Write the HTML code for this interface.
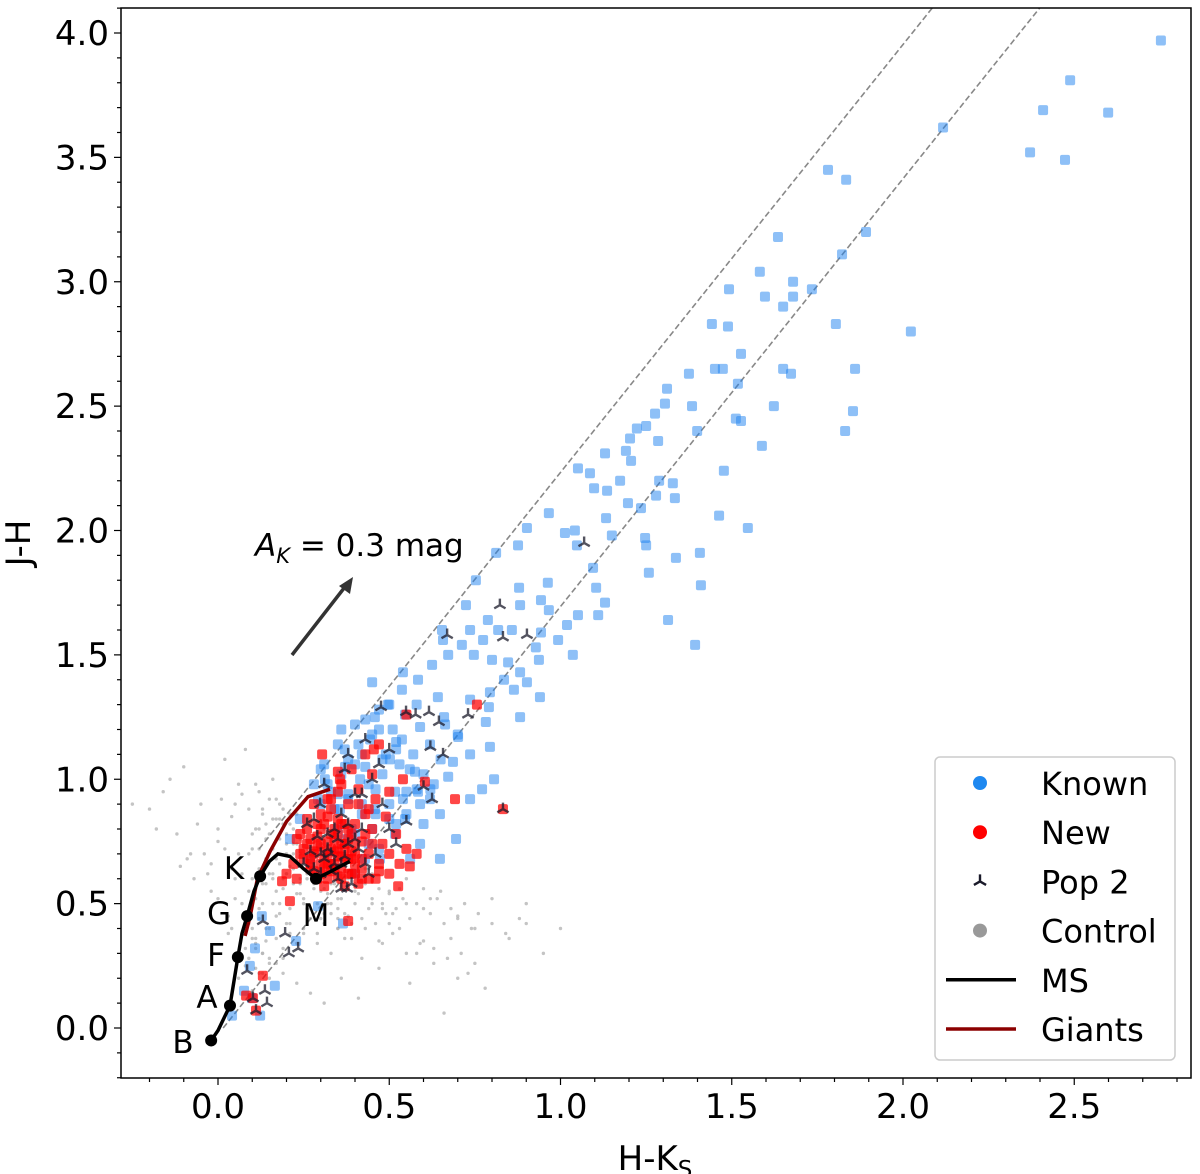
<!DOCTYPE html>
<html><head><meta charset="utf-8"><style>
html,body{margin:0;padding:0;background:#fff;}
svg{display:block;font-family:"DejaVu Sans","Liberation Sans",sans-serif;}
</style></head><body>
<svg id="chart" width="1200" height="1174" viewBox="0 0 1200 1174" xmlns="http://www.w3.org/2000/svg"></svg>
<script>
const knownX=[2.753,2.488,2.409,2.599,2.371,2.473,2.117,1.781,1.834,1.892,1.635,1.822,1.582,1.734,1.679,1.597,1.679,1.492,1.650,2.023,1.804,1.442,1.489,1.527,1.650,1.673,1.860,1.451,1.375,1.474,1.518,1.311,1.305,1.384,1.623,1.854,1.512,1.527,1.276,1.250,1.223,1.285,1.203,1.831,1.588,1.191,1.130,1.206,1.399,1.051,1.477,1.086,1.098,1.288,1.136,1.197,1.279,1.328,1.174,1.334,1.463,1.547,1.235,1.133,0.966,1.042,1.013,1.048,1.150,1.247,1.250,0.902,0.876,0.812,1.095,1.337,1.407,1.258,1.104,1.410,0.753,0.963,0.879,1.130,0.943,1.051,1.110,1.314,0.966,0.882,0.724,0.943,1.019,0.993,1.393,1.036,0.928,0.937,0.858,0.654,0.736,0.788,0.818,0.774,0.712,0.657,0.672,0.747,0.800,0.847,0.882,0.902,0.940,0.835,0.794,0.864,0.791,0.882,0.625,0.584,0.540,0.642,0.736,0.782,0.701,0.736,0.806,0.794,0.450,0.537,0.496,0.458,0.546,0.590,0.663,0.619,0.686,0.537,0.444,0.420,0.350,0.502,0.575,0.672,0.771,0.736,0.619,0.584,0.517,0.415,0.371,0.312,0.292,0.356,0.458,0.546,0.648,0.695,0.590,0.517,0.473,0.561,0.371,0.239,0.210,0.269,0.128,0.152,0.108,0.292,0.228,0.365,0.093,0.076,0.099,0.123,0.041,0.166,0.429,0.400,0.648,0.30,0.33,0.38,0.42,0.46,0.50,0.52,0.35,0.40,0.45,0.48,0.43,0.38,0.30,0.55,0.60,0.62,0.57,0.52,0.47,0.40,0.36,0.65,0.70,0.66,0.58,0.50,0.32,0.36,0.40,0.44,0.48,0.52,0.56,0.34,0.38,0.42,0.46,0.50,0.54,0.58,0.41,0.45,0.49,0.53,0.37,0.43,0.47,0.51,0.55,0.59,0.63,0.39,0.44,0.28,0.31,0.35,0.47,0.60];
const knownY=[3.97,3.81,3.69,3.68,3.52,3.49,3.62,3.45,3.41,3.20,3.18,3.11,3.04,2.97,3.00,2.94,2.94,2.97,2.90,2.80,2.83,2.83,2.82,2.71,2.65,2.63,2.65,2.65,2.63,2.65,2.59,2.57,2.51,2.50,2.50,2.48,2.45,2.44,2.47,2.42,2.41,2.36,2.37,2.40,2.34,2.32,2.31,2.28,2.40,2.25,2.24,2.23,2.17,2.20,2.16,2.11,2.14,2.19,2.20,2.13,2.06,2.01,2.09,2.05,2.07,2.00,1.99,1.94,1.98,1.97,1.94,2.01,1.94,1.91,1.85,1.89,1.91,1.83,1.77,1.78,1.80,1.79,1.77,1.71,1.72,1.66,1.66,1.64,1.68,1.70,1.70,1.59,1.62,1.56,1.54,1.50,1.53,1.48,1.60,1.60,1.60,1.64,1.60,1.56,1.54,1.56,1.50,1.50,1.48,1.47,1.43,1.39,1.33,1.40,1.35,1.36,1.29,1.25,1.46,1.40,1.43,1.33,1.32,1.23,1.17,1.10,1.00,1.13,1.39,1.36,1.30,1.25,1.26,1.21,1.22,1.14,1.07,1.16,1.16,1.10,1.14,1.08,1.03,1.01,0.96,0.92,0.92,0.95,0.95,1.00,1.05,1.00,0.92,0.88,0.88,0.84,0.86,0.76,0.74,0.78,0.68,0.68,0.76,0.84,0.76,0.68,0.45,0.39,0.32,0.49,0.35,0.42,0.25,0.15,0.12,0.05,0.05,0.17,0.68,0.62,0.68,0.90,0.95,0.92,0.86,0.96,0.90,0.82,0.80,0.78,0.80,1.02,1.05,1.08,1.04,0.95,1.02,0.96,1.10,1.15,1.20,1.22,1.20,1.08,1.18,1.25,1.30,1.30,0.98,1.02,1.06,0.98,1.08,1.12,1.04,0.88,0.94,0.90,0.86,0.84,0.92,0.96,1.14,1.18,1.10,1.06,1.12,1.24,1.28,1.20,0.86,0.90,0.98,0.80,0.74,0.98,1.06,0.94,0.72,0.82];
const newX=[0.304,0.756,0.692,0.526,0.21,0.38,0.082,0.131,0.187,0.832,0.604,0.356,0.55,0.455,0.25,0.27,0.28,0.3,0.3,0.32,0.32,0.33,0.34,0.35,0.35,0.36,0.37,0.38,0.38,0.39,0.4,0.4,0.41,0.42,0.42,0.43,0.44,0.44,0.45,0.46,0.47,0.48,0.49,0.5,0.5,0.52,0.53,0.55,0.22,0.24,0.26,0.28,0.31,0.33,0.36,0.39,0.43,0.45,0.47,0.35,0.29,0.31,0.37,0.41,0.46,0.34,0.36,0.38,0.4,0.27,0.29,0.32,0.42,0.44,0.5,0.54,0.56,0.58,0.2,0.23,0.31,0.33,0.37,0.39,0.102,0.111,0.25,0.26,0.27,0.28,0.29,0.3,0.31,0.32,0.33,0.34,0.35,0.36,0.37,0.38,0.39,0.4,0.26,0.28,0.3,0.32,0.34,0.36,0.38,0.4,0.27,0.29,0.31,0.33,0.35,0.37,0.39,0.3,0.32,0.34,0.36,0.33,0.35,0.41,0.43,0.45,0.24,0.23,0.35,0.42,0.47];
const newY=[1.10,1.30,0.92,0.57,0.51,0.43,0.13,0.21,0.59,0.88,0.99,1.00,1.26,1.12,0.72,0.68,0.63,0.66,0.74,0.6,0.7,0.78,0.64,0.72,0.84,0.6,0.68,0.76,0.9,0.62,0.7,0.82,0.96,0.64,0.75,0.86,0.6,0.7,0.8,0.92,0.66,0.74,0.85,0.62,0.7,0.78,0.66,0.72,0.66,0.78,0.84,0.9,0.82,0.88,0.98,1.04,1.1,1.02,1.14,1.03,0.6,0.57,0.57,0.58,0.6,0.66,0.74,0.68,0.62,0.76,0.82,0.92,0.68,0.88,0.95,1.0,0.65,0.7,0.62,0.6,0.64,0.72,0.82,0.78,0.12,0.07,0.68,0.74,0.64,0.70,0.77,0.62,0.68,0.75,0.66,0.71,0.78,0.64,0.72,0.62,0.68,0.66,0.80,0.71,0.80,0.66,0.76,0.69,0.80,0.74,0.66,0.73,0.71,0.63,0.69,0.74,0.71,0.86,0.85,0.80,0.82,0.92,0.95,0.90,0.78,0.74,0.70,0.76,0.61,0.60,0.63];
const pop2X=[0.823,0.669,0.832,0.902,1.069,0.476,0.549,0.577,0.616,0.645,0.73,0.085,0.137,0.102,0.111,0.131,0.196,0.234,0.207,0.377,0.143,0.43,0.62,0.657,0.6,0.625,0.38,0.298,0.832,0.3,0.34,0.38,0.42,0.46,0.36,0.4,0.44,0.32,0.48,0.28,0.35,0.41,0.45,0.37,0.31,0.5,0.26,0.43,0.39,0.33,0.52,0.27,0.29,0.31,0.33,0.35,0.37,0.3,0.32,0.34,0.36,0.38,0.4,0.28,0.25,0.36,0.42,0.47,0.55,0.5];
const pop2Y=[1.70,1.58,1.57,1.58,1.95,1.29,1.27,1.26,1.27,1.23,1.26,0.23,0.15,0.12,0.07,0.43,0.38,0.32,0.30,0.56,0.10,1.16,1.13,1.10,0.97,0.92,1.10,0.90,0.88,0.7,0.66,0.74,0.8,0.7,0.86,0.94,0.62,0.78,0.9,0.64,0.6,0.72,1.0,1.04,0.98,0.8,0.82,0.66,0.58,0.7,0.74,0.71,0.77,0.68,0.63,0.76,0.69,0.62,0.72,0.80,0.66,0.82,0.76,0.84,0.66,0.56,0.94,1.06,0.83,1.12];
const ctrlX=[-0.2,-0.16,-0.12,-0.1,-0.08,-0.05,-0.03,0.0,0.02,0.04,0.06,0.08,0.1,0.12,0.14,0.16,0.18,0.2,0.22,0.24,0.26,0.28,0.3,0.32,0.35,0.38,0.4,0.45,0.5,0.55,0.6,0.65,0.7,0.75,0.8,0.85,0.9,0.95,-0.14,-0.06,0.01,0.05,0.09,0.13,0.17,0.21,0.25,0.29,0.33,0.37,0.42,0.48,0.53,0.58,0.63,0.68,0.73,-0.18,-0.09,-0.02,0.03,0.07,0.11,0.15,0.19,0.23,0.27,0.31,0.36,0.41,0.47,0.56,0.66,0.78,0.07,0.09,0.11,0.13,0.15,0.17,0.19,0.21,0.1,0.12,0.14,0.16,0.18,0.2,0.08,0.1,0.12,0.14,0.16,0.18,0.22,0.24,0.26,0.06,0.08,0.1,0.12,0.14,0.2,0.25,0.3,0.35,0.4,0.45,0.5,0.55,0.28,0.33,0.43,0.38,0.48,0.53,0.05,0.07,0.09,0.11,0.04,0.06,-0.04,-0.07,-0.11,0.0,0.03,0.18,0.22,0.6,0.7,0.9,1.0,-0.25,0.13,0.17,0.21,0.09,0.15,0.19,0.23,0.27,0.31,0.44,0.51,0.62,
0.08,0.09,0.1,0.11,0.12,0.13,0.14,0.15,0.16,0.17,0.18,0.19,0.2,0.21,0.22,0.23,0.24,0.25,0.26,0.27,0.28,0.29,0.3,0.31,0.32,0.33,0.34,0.35,0.36,0.37,0.38,0.39,0.4,0.41,0.42,0.43,0.44,0.45,0.46,0.47,0.48,0.49,0.5,0.52,0.54,0.56,0.58,0.6,0.62,0.64,0.66,0.68,0.7,0.72,0.74,0.76,0.8,0.84,0.88,0.12,0.14,0.16,0.18,0.2,0.22,0.24,0.26,0.28,0.3,0.32,0.34,0.11,0.13,0.15,0.17,0.19,0.21,0.23,0.25,0.27,0.29,0.31,0.33,0.35,0.1,0.12,0.14,0.16,0.18,0.2,0.22,0.24,0.26,0.09,0.11,0.13,0.15,0.17,0.19,0.02,0.0,-0.02,0.04,0.06,0.05,0.07,0.09,0.11,0.13,0.15,0.17,0.19,0.21,0.23,0.25,0.27,0.29,0.31,0.35,0.39,0.43,0.47,0.51,0.55,0.59,0.63,0.67,0.71,0.75];
const ctrlY=[0.88,0.95,0.78,1.05,0.7,0.9,0.62,0.75,1.08,0.85,0.98,1.12,0.72,0.95,0.82,1.0,0.9,0.78,0.86,0.7,0.62,0.58,0.55,0.5,0.48,0.45,0.55,0.5,0.42,0.6,0.48,0.55,0.45,0.4,0.52,0.36,0.42,0.3,1.0,0.82,0.92,0.6,0.55,0.5,0.45,0.42,0.38,0.34,0.3,0.36,0.28,0.34,0.4,0.3,0.26,0.36,0.22,0.8,0.68,0.55,0.45,0.38,0.32,0.28,0.22,0.18,0.14,0.1,0.2,0.12,0.24,0.18,0.06,0.16,0.5,0.42,0.36,0.3,0.26,0.55,0.6,0.65,0.78,0.72,0.68,0.84,0.76,0.7,0.32,0.4,0.48,0.58,0.62,0.5,0.58,0.54,0.48,0.2,0.25,0.15,0.22,0.35,0.42,0.5,0.44,0.52,0.58,0.62,0.55,0.5,0.62,0.58,0.64,0.6,0.48,0.56,0.52,0.62,0.7,0.8,0.4,0.3,0.7,0.6,0.65,0.52,0.38,0.66,0.74,0.35,0.2,0.5,0.4,0.9,0.88,0.92,0.86,0.45,0.78,0.82,0.74,0.7,0.8,0.64,0.46,0.52,
0.4,0.46,0.36,0.52,0.44,0.58,0.4,0.62,0.5,0.68,0.46,0.56,0.62,0.48,0.7,0.54,0.6,0.52,0.66,0.48,0.56,0.5,0.6,0.46,0.54,0.5,0.58,0.44,0.52,0.46,0.56,0.42,0.5,0.54,0.44,0.58,0.48,0.52,0.42,0.56,0.5,0.46,0.54,0.48,0.52,0.44,0.5,0.56,0.46,0.52,0.42,0.48,0.44,0.5,0.4,0.46,0.42,0.38,0.44,0.8,0.76,0.72,0.84,0.74,0.8,0.76,0.72,0.7,0.74,0.7,0.68,0.34,0.3,0.4,0.36,0.32,0.38,0.34,0.4,0.44,0.38,0.42,0.46,0.4,0.6,0.64,0.66,0.6,0.66,0.62,0.64,0.58,0.6,0.28,0.24,0.22,0.2,0.26,0.28,0.72,0.8,0.66,0.64,0.7,0.9,0.94,0.88,0.98,0.86,0.92,0.84,0.88,0.82,0.86,0.8,0.82,0.78,0.56,0.4,0.36,0.4,0.35,0.38,0.3,0.34,0.32,0.28,0.3,0.26];
const msX=[-0.02,0.0,0.035,0.048,0.058,0.07,0.085,0.105,0.123,0.15,0.175,0.21,0.25,0.286,0.33,0.385];
const msY=[-0.05,-0.01,0.09,0.2,0.285,0.38,0.45,0.55,0.61,0.67,0.70,0.69,0.64,0.60,0.63,0.67];
const giantX=[0.079,0.094,0.115,0.152,0.20,0.263,0.327];
const giantY=[0.37,0.45,0.60,0.71,0.83,0.93,0.96];
const spX=[-0.02,0.035,0.058,0.085,0.123,0.286];
const spY=[-0.05,0.09,0.285,0.45,0.61,0.60];
const spLabels=["B","A","F","G","K","M"];
const xTicks=[0,0.5,1,1.5,2,2.5];
const yTicks=[0,0.5,1,1.5,2,2.5,3,3.5,4];

const NS="http://www.w3.org/2000/svg";
const svg=document.getElementById('chart');
const L=121,R=1191,T=8,B=1078;
const X=v=>218+v*342.5;
const Y=v=>1028-v*248.75;
function mk(tag,attrs,parent){const e=document.createElementNS(NS,tag);for(const k in attrs)e.setAttribute(k,attrs[k]);(parent||svg).appendChild(e);return e;}

const clip=mk('clipPath',{id:'pc'});mk('rect',{x:L,y:T,width:R-L,height:B-T},clip);
const plot=mk('g',{'clip-path':'url(#pc)'});



ctrlX.forEach((v,i)=>{const c=mk('circle',{cx:X(v),cy:Y(ctrlY[i]),r:1.7,fill:'#b5b5b5','fill-opacity':0.8},plot);

});
const slope=1.72;
[[0.12,2.2],[0.015,2.7]].forEach((p,i)=>{const x0=p[0],x1=p[1];const y0=i===0?0.72:0.0;const ln=mk('line',{x1:X(x0),y1:Y(y0),x2:X(x1),y2:Y(y0+slope*(x1-x0)),stroke:'#888','stroke-width':1.6,'stroke-dasharray':'6,3'},plot);

});
knownX.forEach((v,i)=>{const r=mk('rect',{x:X(v)-5,y:Y(knownY[i])-5,width:10,height:10,rx:2,fill:'rgba(30,130,240,0.5)'},plot);

});
newX.forEach((v,i)=>{const r=mk('rect',{x:X(v)-5,y:Y(newY[i])-5,width:10,height:10,rx:2,fill:'rgba(255,0,0,0.72)'},plot);

});
function tri(cx,cy,s,parent,op){const g=mk('g',{stroke:'#1a1a2a','stroke-opacity':op,'stroke-width':2.4,fill:'none'},parent);
mk('path',{d:`M${cx},${cy}L${cx},${cy-s}M${cx},${cy}L${cx-s*0.87},${cy+s*0.5}M${cx},${cy}L${cx+s*0.87},${cy+s*0.5}`},g);return g;}
pop2X.forEach((v,i)=>{const g=tri(X(v),Y(pop2Y[i]),6.5,plot,0.75);

});
const gl=mk('polyline',{points:giantX.map((v,i)=>X(v)+','+Y(giantY[i])).join(' '),fill:'none',stroke:'#8b0000','stroke-width':3.5},plot);


const ml=mk('polyline',{points:msX.map((v,i)=>X(v)+','+Y(msY[i])).join(' '),fill:'none',stroke:'#000','stroke-width':3.5},plot);


spX.forEach((v,i)=>{const c=mk('circle',{cx:X(v),cy:Y(spY[i]),r:6,fill:'#000'},plot);


const lx=[183,207,216,219,234,316][i],ly=[1042,997,955,913,868,915][i];
const t=mk('text',{x:lx,y:ly+11,'font-size':31,'text-anchor':'middle'},svg);t.textContent=spLabels[i];

});

const ar=mk('g',{},svg);


mk('line',{x1:292,y1:655,x2:348,y2:583,stroke:'#333','stroke-width':3.5},ar);
mk('path',{d:'M353,577 L339,586 L350,594 Z',fill:'#333'},ar);
const at=mk('text',{x:255,y:556,'font-size':31},svg);
at.innerHTML='<tspan font-style="italic">A</tspan><tspan font-style="italic" font-size="21" dy="7">K</tspan><tspan dy="-7"> = 0.3 mag</tspan>';



const fr=mk('rect',{x:L,y:T,width:R-L,height:B-T,fill:'none',stroke:'#000','stroke-width':1.5},svg);


for(let k=-2;k<=28;k++){const v=k/10;const px=X(v);if(px<L||px>R)continue;const maj=k%5===0;
mk('line',{x1:px,y1:B,x2:px,y2:B+(maj?7:4),stroke:'#000','stroke-width':1.2},svg);}
xTicks.forEach(v=>{const t=mk('text',{x:X(v),y:B+40,'font-size':34,'text-anchor':'middle'},svg);t.textContent=v.toFixed(1);

});
for(let k=-2;k<=41;k++){const v=k/10;const py=Y(v);if(py<T||py>B)continue;const maj=k%5===0;
mk('line',{x1:L,y1:py,x2:L-(maj?7:4),y2:py,stroke:'#000','stroke-width':1.2},svg);}
yTicks.forEach(v=>{const t=mk('text',{x:L-12,y:Y(v)+12,'font-size':34,'text-anchor':'end'},svg);t.textContent=v.toFixed(1);

});
const xl=mk('text',{x:655,y:1170,'font-size':34,'text-anchor':'middle'},svg);
xl.innerHTML='H-K<tspan font-size="23" dy="7">S</tspan>';


const yl=mk('text',{x:30,y:543,'font-size':34,'text-anchor':'middle',transform:'rotate(-90 30 543)'},svg);
yl.textContent='J-H';



const lg=mk('g',{},svg);


mk('rect',{x:935,y:757,width:240,height:303,rx:5,fill:'#fff','fill-opacity':0.85,stroke:'#ccc','stroke-width':1.5},lg);
const names=['Known','New','Pop 2','Control','MS','Giants'];
names.forEach((n,i)=>{const y=783+i*49.2;
let m;
if(i===0)m=mk('circle',{cx:980,cy:y,r:7,fill:'#1e88f0'},lg);
else if(i===1)m=mk('circle',{cx:980,cy:y,r:7,fill:'#ff0000'},lg);
else if(i===2)m=tri(980,y,7,lg,1);
else if(i===3)m=mk('circle',{cx:980,cy:y,r:7,fill:'#999'},lg);
else m=mk('line',{x1:946,y1:y,x2:1016,y2:y,stroke:i===4?'#000':'#8b0000','stroke-width':3.5},lg);


const t=mk('text',{x:1041,y:y+12,'font-size':32},lg);t.textContent=n;

});
</script>
</body></html>
